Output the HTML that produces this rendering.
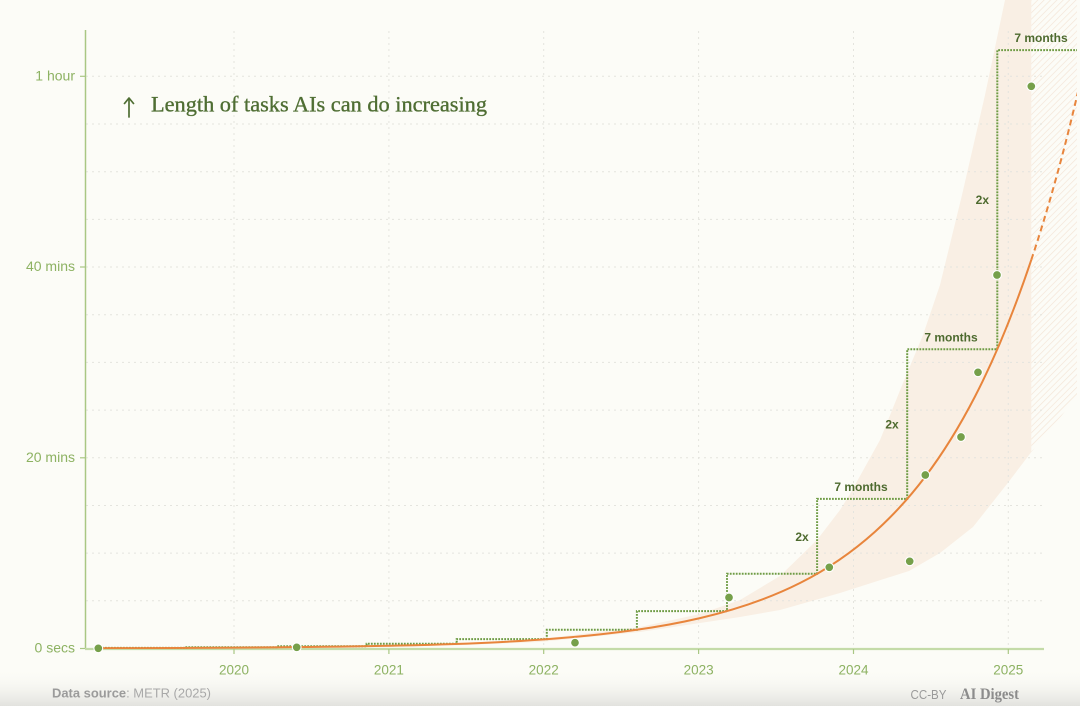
<!DOCTYPE html>
<html>
<head>
<meta charset="utf-8">
<style>
  html,body{margin:0;padding:0;background:#fcfcf7;}
  svg{display:block;}
  .tick{font-family:"Liberation Sans",sans-serif;font-size:14px;fill:#8db262;}
  .yr{font-family:"Liberation Sans",sans-serif;font-size:13.5px;fill:#8db262;}
  .ann{font-family:"Liberation Sans",sans-serif;font-size:12px;font-weight:bold;fill:#4d6a2e;}
</style>
</head>
<body>
<svg width="1080" height="706" viewBox="0 0 1080 706" xmlns="http://www.w3.org/2000/svg">
  <defs>
    <pattern id="hatch" patternUnits="userSpaceOnUse" width="4.5" height="4.5" patternTransform="rotate(45)">
      <line x1="0" y1="0" x2="0" y2="4.5" stroke="#f3e4d5" stroke-width="1.3"/>
    </pattern>
    <linearGradient id="foot" x1="0" y1="0" x2="0" y2="1">
      <stop offset="0" stop-color="#fcfcf7" stop-opacity="0"/>
      <stop offset="1" stop-color="#e2e2de" stop-opacity="1"/>
    </linearGradient>
    <clipPath id="plot">
      <rect x="85" y="0" width="992" height="649"/>
    </clipPath>
  </defs>

  <rect x="0" y="0" width="1080" height="706" fill="#fcfcf7"/>
  <rect x="0" y="668" width="1080" height="38" fill="url(#foot)"/>

  <g clip-path="url(#plot)">
    <!-- confidence band (solid) -->
    <path d="M98,648.5 L300,647.5 L450,644 L540,639 L640,627 L700,614 L740,600 L780,576 L817,540 L840,510 L850,494 L880,440 L903,383 L923,335 L940,285 L962,195 L985,95 L1005,0 L1031.3,0 L1031.3,452 L1007,484 L973,527 L940,553 L909,571 L840,593 L780,610 L740,617 L640,632 L540,642 L450,645.5 L300,648 Z" fill="#f9efe4"/>
    <!-- hatched extrapolation region -->
    <path d="M1031.3,0 L1077,0 L1077,396 L1055,424 L1031.3,452 Z" fill="url(#hatch)"/>
  </g>

  <!-- grid -->
  <g stroke="#e4e4de" stroke-width="1" stroke-dasharray="2 4" fill="none">
    <line x1="86" y1="600.8" x2="1044" y2="600.8"/>
    <line x1="86" y1="553.1" x2="1044" y2="553.1"/>
    <line x1="86" y1="505.5" x2="1044" y2="505.5"/>
    <line x1="86" y1="457.8" x2="1044" y2="457.8"/>
    <line x1="86" y1="410.1" x2="1044" y2="410.1"/>
    <line x1="86" y1="362.4" x2="1044" y2="362.4"/>
    <line x1="86" y1="314.7" x2="1044" y2="314.7"/>
    <line x1="86" y1="267.0" x2="1044" y2="267.0"/>
    <line x1="86" y1="219.4" x2="1044" y2="219.4"/>
    <line x1="86" y1="171.7" x2="1044" y2="171.7"/>
    <line x1="86" y1="124.0" x2="1044" y2="124.0"/>
    <line x1="86" y1="76.3" x2="1044" y2="76.3"/>
    <line x1="234" y1="31" x2="234" y2="648"/>
    <line x1="388.9" y1="31" x2="388.9" y2="648"/>
    <line x1="543.7" y1="31" x2="543.7" y2="648"/>
    <line x1="698.6" y1="31" x2="698.6" y2="648"/>
    <line x1="853.5" y1="31" x2="853.5" y2="648"/>
    <line x1="1008.3" y1="31" x2="1008.3" y2="648"/>
  </g>

  <!-- axes -->
  <line x1="85.5" y1="30" x2="85.5" y2="649" stroke="#a9c784" stroke-width="1.5"/>
  <g stroke="#a9c784" stroke-width="1.2">
    <line x1="80" y1="76.3" x2="85.5" y2="76.3"/>
    <line x1="80" y1="267" x2="85.5" y2="267"/>
    <line x1="80" y1="457.8" x2="85.5" y2="457.8"/>
    <line x1="80" y1="648.5" x2="85.5" y2="648.5"/>
  </g>
  <line x1="85" y1="649" x2="1044" y2="649" stroke="#c4dba8" stroke-width="2.2"/>
  <g stroke="#a9c784" stroke-width="1.2">
    <line x1="234" y1="649" x2="234" y2="654"/>
    <line x1="388.9" y1="649" x2="388.9" y2="654"/>
    <line x1="543.7" y1="649" x2="543.7" y2="654"/>
    <line x1="698.6" y1="649" x2="698.6" y2="654"/>
    <line x1="853.5" y1="649" x2="853.5" y2="654"/>
    <line x1="1008.3" y1="649" x2="1008.3" y2="654"/>
  </g>

  <!-- tick labels -->
  <text class="tick" x="75" y="80.5" text-anchor="end">1 hour</text>
  <text class="tick" x="75" y="271.2" text-anchor="end">40 mins</text>
  <text class="tick" x="75" y="462" text-anchor="end">20 mins</text>
  <text class="tick" x="75" y="652.7" text-anchor="end">0 secs</text>

  <text class="yr" x="234" y="674.5" text-anchor="middle">2020</text>
  <text class="yr" x="388.9" y="674.5" text-anchor="middle">2021</text>
  <text class="yr" x="543.7" y="674.5" text-anchor="middle">2022</text>
  <text class="yr" x="698.6" y="674.5" text-anchor="middle">2023</text>
  <text class="yr" x="853.5" y="674.5" text-anchor="middle">2024</text>
  <text class="yr" x="1008.3" y="674.5" text-anchor="middle">2025</text>

  <g clip-path="url(#plot)">
    <!-- doubling staircase -->
    <path d="M96.3,648.2 V647.9 H186.4 V647.3 H276.5 V646.2 H366.6 V643.8 H456.7 V639.15 H546.8 V629.8 H636.9 V611.1 H727 V573.7 H817.1 V498.9 H907.2 V349.3 H997.3 V50.1 H1077" fill="none" stroke="#6f9c45" stroke-width="2" stroke-dasharray="1.8 1.2"/>

    <!-- trend curve (solid) -->
    <path d="M98,648.2 C198.67,647.97 299.33,647.84 400,645.5 C466.67,643.95 533.33,641.62 600,634.4 C633.33,630.79 666.67,625.89 700,618.1 C733.33,610.31 766.67,599.8 800,583 C825,570.4 850,554.16 875,531.7 C891.67,516.73 908.33,498.99 925,477 C941.67,455.01 958.33,428.81 975,396.5 C993.77,360.12 1012.53,315.93 1031.3,259.8" fill="none" stroke="#e8853c" stroke-width="2"/>
    <!-- trend curve (dashed extrapolation) -->
    <path d="M1031.3,259.8 C1047.53,211.26 1063.77,153.79 1080,83.2" fill="none" stroke="#e8853c" stroke-width="2" stroke-dasharray="6 4"/>
  </g>

  <!-- data points -->
  <g fill="#76a04a" stroke="#ffffff" stroke-width="1.1">
    <circle cx="98.3" cy="648.3" r="4.4"/>
    <circle cx="296.7" cy="647.3" r="4.4"/>
    <circle cx="575" cy="642.7" r="4.4"/>
    <circle cx="729" cy="597.5" r="4.4"/>
    <circle cx="829.3" cy="567.3" r="4.4"/>
    <circle cx="909.7" cy="561.3" r="4.4"/>
    <circle cx="925.3" cy="475" r="4.4"/>
    <circle cx="961" cy="437" r="4.4"/>
    <circle cx="978" cy="372.3" r="4.4"/>
    <circle cx="997" cy="275" r="4.4"/>
    <circle cx="1031.3" cy="86.3" r="4.4"/>
  </g>

  <!-- annotations -->
  <text class="ann" x="1041" y="42" text-anchor="middle">7 months</text>
  <text class="ann" x="951" y="341.5" text-anchor="middle">7 months</text>
  <text class="ann" x="861" y="491" text-anchor="middle">7 months</text>
  <text class="ann" x="989" y="204.2" text-anchor="end">2x</text>
  <text class="ann" x="898.7" y="428.4" text-anchor="end">2x</text>
  <text class="ann" x="808.7" y="541" text-anchor="end">2x</text>

  <!-- title -->
  <g stroke="#4f6e33" stroke-width="1.7" fill="none" stroke-linecap="round" stroke-linejoin="round">
    <line x1="129" y1="98.5" x2="129" y2="117"/>
    <polyline points="124.5,103.5 129,98 133.5,103.5"/>
  </g>
  <text x="151" y="111.7" font-family="'Liberation Serif',serif" font-size="22" fill="#4f6e33" stroke="#4f6e33" stroke-width="0.35" textLength="336" lengthAdjust="spacingAndGlyphs">Length of tasks AIs can do increasing</text>

  <!-- footer -->
  <text x="52" y="697.5" font-family="'Liberation Sans',sans-serif" font-size="13" textLength="159" lengthAdjust="spacingAndGlyphs"><tspan font-weight="bold" fill="#9b9b9b">Data source</tspan><tspan fill="#a8a8a8">: METR (2025)</tspan></text>
  <text x="910.5" y="699" font-family="'Liberation Sans',sans-serif" font-size="13" fill="#9a9a9a" textLength="36" lengthAdjust="spacingAndGlyphs">CC-BY</text>
  <text x="960" y="699" font-family="'Liberation Serif',serif" font-size="16" font-weight="bold" fill="#8c8c8c" textLength="59" lengthAdjust="spacingAndGlyphs">AI Digest</text>
</svg>
</body>
</html>
